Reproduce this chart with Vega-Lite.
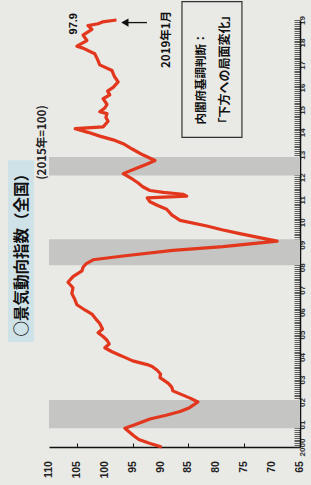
{
  "$schema": "https://vega.github.io/schema/vega-lite/v6.json",
  "width": 251,
  "height": 427,
  "autosize": {"type": "none"},
  "padding": {"left": 49, "top": 20, "right": 11, "bottom": 38},
  "background": "#e9e9e6",
  "config": {
    "view": {"stroke": null},
    "font": "Noto Sans CJK JP",
    "axisX": {
      "orient": "bottom", "title": null, "grid": false, "labels": false,
      "domainColor": "#111", "domainWidth": 1.5,
      "tickColor": "#111", "tickSize": -4, "tickWidth": 1
    },
    "axisY": {
      "orient": "right", "title": null, "grid": false,
      "domainColor": "#111", "domainWidth": 1.5,
      "tickColor": "#222", "tickSize": -6, "tickWidth": 0.7,
      "labelAngle": 270, "labelAlign": "center", "labelBaseline": "top",
      "labelPadding": 4, "labelFontSize": 8, "labelFontWeight": "bold",
      "labelFont": "Liberation Sans Narrow, Liberation Sans", "labelColor": "#333",
      "labelOverlap": false, "labelBound": false, "labelFlush": false
    }
  },
  "datasets": {
    "ci": [
      {"date": "2000-01-01", "value": 89.8},
      {"date": "2000-03-01", "value": 92.0},
      {"date": "2000-05-01", "value": 93.9},
      {"date": "2000-07-01", "value": 94.8},
      {"date": "2000-09-01", "value": 95.6},
      {"date": "2000-11-01", "value": 96.4},
      {"date": "2001-01-01", "value": 94.5},
      {"date": "2001-04-01", "value": 91.9},
      {"date": "2001-06-01", "value": 89.0},
      {"date": "2001-08-01", "value": 86.5},
      {"date": "2001-10-01", "value": 84.8},
      {"date": "2002-01-01", "value": 83.3},
      {"date": "2002-03-01", "value": 84.6},
      {"date": "2002-05-01", "value": 86.2},
      {"date": "2002-07-01", "value": 87.8},
      {"date": "2002-09-01", "value": 88.0},
      {"date": "2002-11-01", "value": 88.6},
      {"date": "2003-02-01", "value": 90.1},
      {"date": "2003-04-01", "value": 90.0},
      {"date": "2003-06-01", "value": 90.6},
      {"date": "2003-08-01", "value": 91.5},
      {"date": "2003-09-01", "value": 92.4},
      {"date": "2003-11-01", "value": 95.0},
      {"date": "2004-01-01", "value": 96.5},
      {"date": "2004-02-01", "value": 97.3},
      {"date": "2004-04-01", "value": 98.8},
      {"date": "2004-06-01", "value": 100.0},
      {"date": "2004-08-01", "value": 99.2},
      {"date": "2004-10-01", "value": 99.6},
      {"date": "2004-12-01", "value": 100.3},
      {"date": "2005-02-01", "value": 101.2},
      {"date": "2005-04-01", "value": 100.4},
      {"date": "2005-07-01", "value": 100.9},
      {"date": "2005-09-01", "value": 101.5},
      {"date": "2005-12-01", "value": 102.3},
      {"date": "2006-02-01", "value": 103.5},
      {"date": "2006-05-01", "value": 105.0},
      {"date": "2006-08-01", "value": 105.4},
      {"date": "2006-11-01", "value": 105.9},
      {"date": "2007-02-01", "value": 105.7},
      {"date": "2007-05-01", "value": 106.6},
      {"date": "2007-08-01", "value": 105.7},
      {"date": "2007-11-01", "value": 104.1},
      {"date": "2008-01-01", "value": 103.9},
      {"date": "2008-03-01", "value": 103.3},
      {"date": "2008-05-01", "value": 102.1},
      {"date": "2008-07-01", "value": 96.7},
      {"date": "2008-10-01", "value": 87.8},
      {"date": "2008-12-01", "value": 78.8},
      {"date": "2009-03-01", "value": 69.1},
      {"date": "2009-05-01", "value": 72.5},
      {"date": "2009-07-01", "value": 75.8},
      {"date": "2009-09-01", "value": 79.0},
      {"date": "2009-11-01", "value": 81.7},
      {"date": "2010-02-01", "value": 86.5},
      {"date": "2010-05-01", "value": 88.0},
      {"date": "2010-08-01", "value": 88.9},
      {"date": "2010-10-01", "value": 90.5},
      {"date": "2010-12-01", "value": 91.9},
      {"date": "2011-02-01", "value": 92.4},
      {"date": "2011-03-01", "value": 85.3},
      {"date": "2011-04-01", "value": 86.0},
      {"date": "2011-05-01", "value": 89.5},
      {"date": "2011-06-01", "value": 91.9},
      {"date": "2011-08-01", "value": 93.2},
      {"date": "2011-10-01", "value": 94.0},
      {"date": "2011-12-01", "value": 95.0},
      {"date": "2012-03-01", "value": 96.7},
      {"date": "2012-06-01", "value": 94.2},
      {"date": "2012-08-01", "value": 92.5},
      {"date": "2012-10-01", "value": 91.0},
      {"date": "2013-01-01", "value": 93.2},
      {"date": "2013-04-01", "value": 95.0},
      {"date": "2013-07-01", "value": 96.7},
      {"date": "2013-09-01", "value": 98.5},
      {"date": "2013-11-01", "value": 100.9},
      {"date": "2014-01-01", "value": 103.0},
      {"date": "2014-03-01", "value": 105.3},
      {"date": "2014-04-01", "value": 100.3},
      {"date": "2014-07-01", "value": 99.4},
      {"date": "2014-09-01", "value": 99.8},
      {"date": "2014-11-01", "value": 99.6},
      {"date": "2014-12-01", "value": 100.9},
      {"date": "2015-02-01", "value": 100.0},
      {"date": "2015-04-01", "value": 99.6},
      {"date": "2015-07-01", "value": 100.3},
      {"date": "2015-09-01", "value": 99.1},
      {"date": "2015-11-01", "value": 99.5},
      {"date": "2016-01-01", "value": 98.5},
      {"date": "2016-04-01", "value": 97.6},
      {"date": "2016-07-01", "value": 98.3},
      {"date": "2016-10-01", "value": 98.7},
      {"date": "2017-01-01", "value": 100.9},
      {"date": "2017-04-01", "value": 101.3},
      {"date": "2017-07-01", "value": 101.8},
      {"date": "2017-10-01", "value": 103.9},
      {"date": "2017-11-01", "value": 105.0},
      {"date": "2018-02-01", "value": 103.2},
      {"date": "2018-05-01", "value": 103.9},
      {"date": "2018-08-01", "value": 102.3},
      {"date": "2018-10-01", "value": 103.0},
      {"date": "2018-11-01", "value": 101.2},
      {"date": "2018-12-01", "value": 100.4},
      {"date": "2019-01-01", "value": 97.9}
    ],
    "bands": [
      {"start": "2000-11-01", "end": "2002-02-01"},
      {"start": "2008-02-01", "end": "2009-04-01"},
      {"start": "2012-02-01", "end": "2012-11-25"}
    ],
    "ticks": [
      {"tick": 65}, {"tick": 70}, {"tick": 75}, {"tick": 80}, {"tick": 85},
      {"tick": 90}, {"tick": 95}, {"tick": 100}, {"tick": 105}, {"tick": 110}
    ],
    "one": [{}]
  },
  "layer": [
    {
      "data": {"name": "bands"},
      "mark": {"type": "rect", "color": "#c5c5c4"},
      "encoding": {
        "x": {
          "datum": 110, "type": "quantitative",
          "scale": {"domain": [65, 110], "reverse": true, "nice": false, "zero": false},
          "axis": {"values": [65, 70, 75, 80, 85, 90, 95, 100, 105, 110]}
        },
        "x2": {"datum": 65},
        "y": {
          "field": "start", "type": "temporal",
          "scale": {
            "type": "utc",
            "domain": [
              {"year": 2000, "month": 1, "date": 1, "utc": true},
              {"year": 2019, "month": 1, "date": 1, "utc": true}
            ],
            "nice": false
          },
          "axis": {
            "tickCount": {"interval": "month", "step": 1},
            "labelOverlap": false,
            "labelExpr": "utcmonth(datum.value) == 0 ? (utcyear(datum.value) == 2000 ? '2000' : utcFormat(datum.value, '%y')) : ''"
          }
        },
        "y2": {"field": "end"}
      }
    },
    {
      "data": {"name": "ci"},
      "mark": {"type": "line", "color": "#e2361d", "strokeWidth": 3.2, "strokeJoin": "round"},
      "encoding": {
        "x": {"field": "value", "type": "quantitative"},
        "y": {"field": "date", "type": "temporal"}
      }
    },
    {
      "data": {"name": "ticks"},
      "mark": {"type": "text", "angle": 270, "align": "right", "baseline": "middle", "fontSize": 10.5, "fontWeight": "bold", "color": "#222", "font": "Liberation Sans Narrow, Liberation Sans"},
      "encoding": {
        "x": {"field": "tick", "type": "quantitative"},
        "y": {"datum": {"year": 1999, "month": 5, "date": 18, "utc": true}, "type": "temporal"},
        "text": {"field": "tick", "type": "quantitative"}
      }
    },
    {
      "data": {"name": "one"},
      "mark": {"type": "rect", "color": "#cfe2e8"},
      "encoding": {
        "x": {"datum": 117.35, "type": "quantitative"},
        "x2": {"datum": 112.69},
        "y": {"datum": {"year": 2004, "month": 9, "date": 1, "utc": true}, "type": "temporal"},
        "y2": {"datum": {"year": 2012, "month": 10, "date": 5, "utc": true}}
      }
    },
    {
      "data": {"name": "one"},
      "mark": {"type": "text", "text": "○景気動向指数（全国）", "angle": 270, "align": "center", "baseline": "middle", "fontSize": 15.5, "fontWeight": "bold", "color": "#111", "font": "Noto Sans CJK JP"},
      "encoding": {
        "x": {"datum": 114.84, "type": "quantitative"},
        "y": {"datum": {"year": 2008, "month": 9, "date": 17, "utc": true}, "type": "temporal"}
      }
    },
    {
      "data": {"name": "one"},
      "mark": {"type": "text", "text": "(2015年=100)", "angle": 270, "align": "center", "baseline": "middle", "fontSize": 11.5, "fontWeight": "bold", "color": "#222", "font": "Noto Sans CJK JP"},
      "encoding": {
        "x": {"datum": 111.08, "type": "quantitative"},
        "y": {"datum": {"year": 2013, "month": 7, "date": 20, "utc": true}, "type": "temporal"}
      }
    },
    {
      "data": {"name": "one"},
      "mark": {"type": "text", "text": "97.9", "angle": 270, "align": "center", "baseline": "middle", "fontSize": 11, "fontWeight": "bold", "color": "#111", "font": "Liberation Sans Narrow, Liberation Sans"},
      "encoding": {
        "x": {"datum": 105.52, "type": "quantitative"},
        "y": {"datum": {"year": 2018, "month": 11, "date": 1, "utc": true}, "type": "temporal"}
      }
    },
    {
      "data": {"name": "one"},
      "mark": {"type": "rule", "color": "#111", "strokeWidth": 1.3},
      "encoding": {
        "x": {"datum": 95.9, "type": "quantitative"},
        "x2": {"datum": 92.44},
        "y": {"datum": {"year": 2018, "month": 11, "date": 20, "utc": true}, "type": "temporal"}
      }
    },
    {
      "data": {"name": "one"},
      "mark": {"type": "point", "shape": "triangle-left", "filled": true, "color": "#111", "opacity": 1, "size": 70},
      "encoding": {
        "x": {"datum": 96.4, "type": "quantitative"},
        "y": {"datum": {"year": 2018, "month": 11, "date": 20, "utc": true}, "type": "temporal"}
      }
    },
    {
      "data": {"name": "one"},
      "mark": {"type": "text", "text": "2019年1月", "angle": 270, "align": "center", "baseline": "middle", "fontSize": 11.5, "fontWeight": "bold", "color": "#111", "font": "Noto Sans CJK JP"},
      "encoding": {
        "x": {"datum": 88.85, "type": "quantitative"},
        "y": {"datum": {"year": 2018, "month": 2, "date": 19, "utc": true}, "type": "temporal"}
      }
    },
    {
      "data": {"name": "one"},
      "mark": {"type": "rect", "fillOpacity": 0, "stroke": "#333", "strokeWidth": 1.2},
      "encoding": {
        "x": {"datum": 86.16, "type": "quantitative"},
        "x2": {"datum": 75.41},
        "y": {"datum": {"year": 2013, "month": 10, "date": 11, "utc": true}, "type": "temporal"},
        "y2": {"datum": {"year": 2019, "month": 10, "date": 27, "utc": true}}
      }
    },
    {
      "data": {"name": "one"},
      "mark": {"type": "text", "text": "内閣府基調判断：", "angle": 270, "align": "left", "baseline": "middle", "fontSize": 11.5, "fontWeight": "bold", "color": "#111", "font": "Noto Sans CJK JP"},
      "encoding": {
        "x": {"datum": 82.58, "type": "quantitative"},
        "y": {"datum": {"year": 2014, "month": 5, "date": 10, "utc": true}, "type": "temporal"}
      }
    },
    {
      "data": {"name": "one"},
      "mark": {"type": "text", "text": "「下方への局面変化」", "angle": 270, "align": "left", "baseline": "middle", "fontSize": 12, "fontWeight": "bold", "color": "#111", "font": "Noto Sans CJK JP"},
      "encoding": {
        "x": {"datum": 78.46, "type": "quantitative"},
        "y": {"datum": {"year": 2014, "month": 2, "date": 18, "utc": true}, "type": "temporal"}
      }
    }
  ]
}
